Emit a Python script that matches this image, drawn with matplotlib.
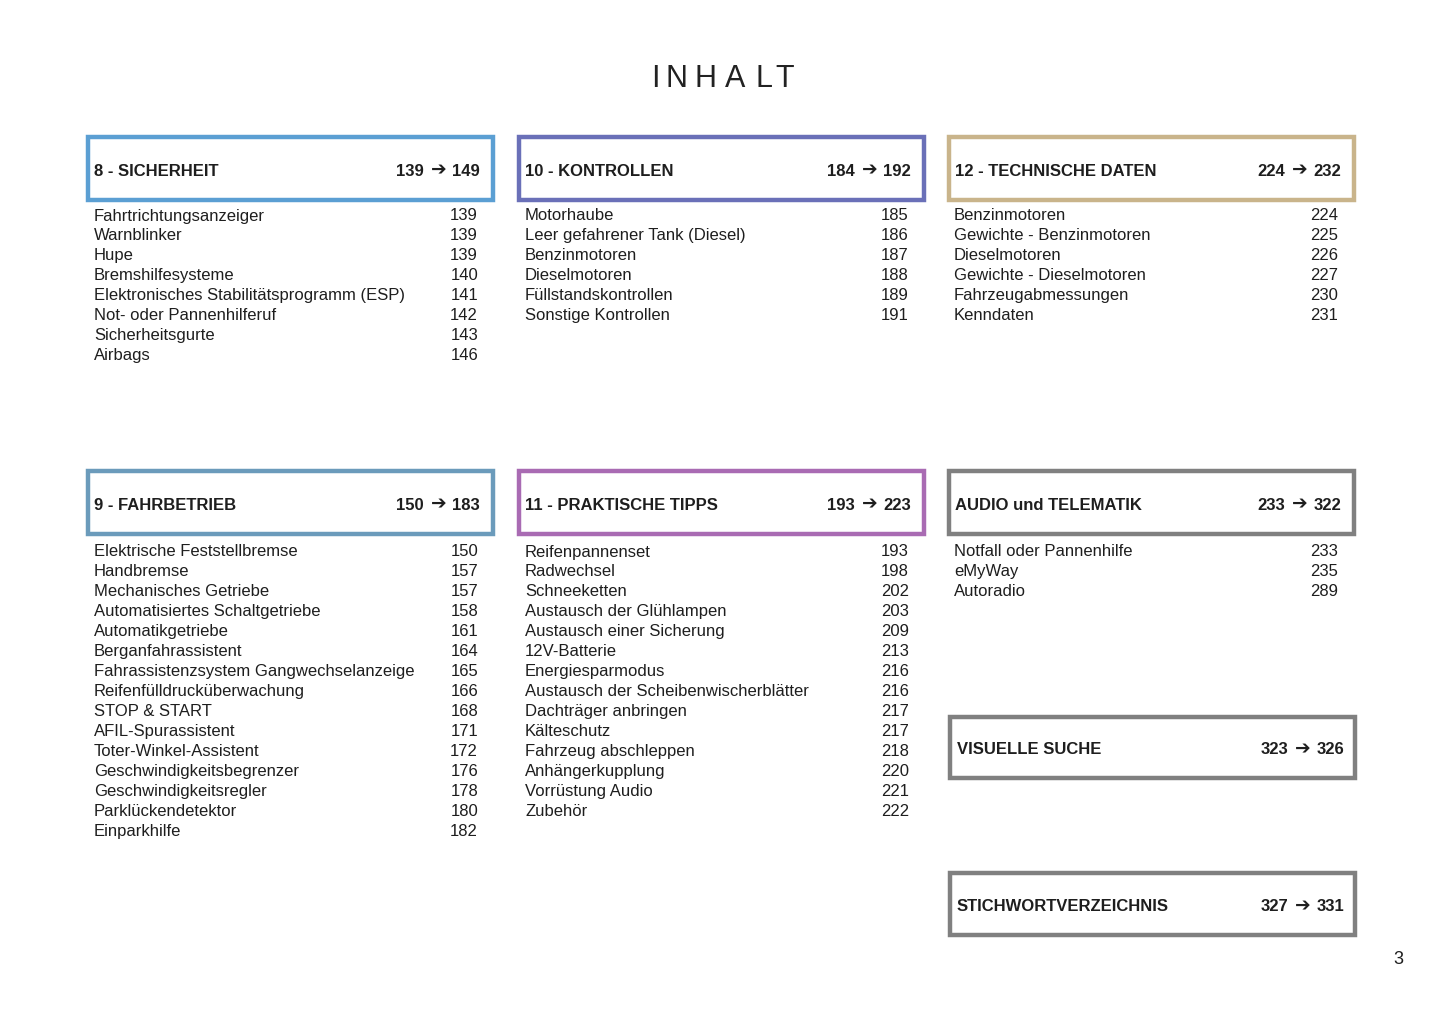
import matplotlib
matplotlib.use("Agg")
import matplotlib.pyplot as plt
from matplotlib.patches import Rectangle

FONT = ["Liberation Sans", "DejaVu Sans"]
INK = "#1e1e1e"

TITLE = "INHALT"
PAGE_NO = "3"

# section headers: (title, first page, last page)
SEC_SICHERHEIT = ("8 - SICHERHEIT", 139, 149)
SEC_KONTROLLEN = ("10 - KONTROLLEN", 184, 192)
SEC_TECHNIK = ("12 - TECHNISCHE DATEN", 224, 232)
SEC_FAHRBETRIEB = ("9 - FAHRBETRIEB", 150, 183)
SEC_TIPPS = ("11 - PRAKTISCHE TIPPS", 193, 223)
SEC_AUDIO = ("AUDIO und TELEMATIK", 233, 322)
SEC_SUCHE = ("VISUELLE SUCHE", 323, 326)
SEC_INDEX = ("STICHWORTVERZEICHNIS", 327, 331)

SICHERHEIT_ITEMS = ["Fahrtrichtungsanzeiger", "Warnblinker", "Hupe", "Bremshilfesysteme",
                    "Elektronisches Stabilitätsprogramm (ESP)", "Not- oder Pannenhilferuf",
                    "Sicherheitsgurte", "Airbags"]
SICHERHEIT_PAGES = [139, 139, 139, 140, 141, 142, 143, 146]

KONTROLLEN_ITEMS = ["Motorhaube", "Leer gefahrener Tank (Diesel)", "Benzinmotoren",
                    "Dieselmotoren", "Füllstandskontrollen", "Sonstige Kontrollen"]
KONTROLLEN_PAGES = [185, 186, 187, 188, 189, 191]

TECHNIK_ITEMS = ["Benzinmotoren", "Gewichte - Benzinmotoren", "Dieselmotoren",
                 "Gewichte - Dieselmotoren", "Fahrzeugabmessungen", "Kenndaten"]
TECHNIK_PAGES = [224, 225, 226, 227, 230, 231]

FAHRBETRIEB_ITEMS = ["Elektrische Feststellbremse", "Handbremse", "Mechanisches Getriebe",
                     "Automatisiertes Schaltgetriebe", "Automatikgetriebe",
                     "Berganfahrassistent", "Fahrassistenzsystem Gangwechselanzeige",
                     "Reifenfülldrucküberwachung", "STOP & START", "AFIL-Spurassistent",
                     "Toter-Winkel-Assistent", "Geschwindigkeitsbegrenzer",
                     "Geschwindigkeitsregler", "Parklückendetektor", "Einparkhilfe"]
FAHRBETRIEB_PAGES = [150, 157, 157, 158, 161, 164, 165, 166, 168, 171, 172, 176, 178, 180, 182]

TIPPS_ITEMS = ["Reifenpannenset", "Radwechsel", "Schneeketten", "Austausch der Glühlampen",
               "Austausch einer Sicherung", "12V-Batterie", "Energiesparmodus",
               "Austausch der Scheibenwischerblätter", "Dachträger anbringen", "Kälteschutz",
               "Fahrzeug abschleppen", "Anhängerkupplung", "Vorrüstung Audio", "Zubehör"]
TIPPS_PAGES = [193, 198, 202, 203, 209, 213, 216, 216, 217, 217, 218, 220, 221, 222]

AUDIO_ITEMS = ["Notfall oder Pannenhilfe", "eMyWay", "Autoradio"]
AUDIO_PAGES = [233, 235, 289]

fig = plt.figure(figsize=(14.45, 10.26), dpi=100)
ax = fig.add_axes([0, 0, 1, 1])
ax.set_xlim(0, 1445)
ax.set_ylim(1026, 0)
ax.axis("off")


def header(sec, x0, y0, color, w=405, h=63, pad=6, rpad=13):
    name, a, b = sec
    ax.add_patch(Rectangle((x0, y0), w, h, fill=False, edgecolor=color, lw=3.2))
    yc = y0 + h / 2 + 2.5
    ax.text(x0 + pad, yc, name, family=FONT, fontsize=12, fontweight="bold",
            color=INK, ha="left", va="center")
    # page range, arrow drawn a bit heavier than the digits
    t = ax.text(x0 + w - rpad, yc, str(b), family=FONT, fontsize=12,
                fontweight="bold", color=INK, ha="right", va="center")
    ax.annotate("\u2794", xy=(0, 0.5), xycoords=t, xytext=(-4, 0),
                textcoords="offset points", family=FONT, fontsize=13.5,
                fontweight="bold", color=INK, ha="right", va="center")
    ax.text(x0 + w - rpad - 56, yc, str(a), family=FONT, fontsize=12,
            fontweight="bold", color=INK, ha="right", va="center")


def listing(items, pages, x_text, x_num, y_first, step=19.95):
    for i, (it, p) in enumerate(zip(items, pages)):
        y = y_first + i * step
        ax.text(x_text, y, it, family=FONT, fontsize=12, color=INK, ha="left", va="center")
        ax.text(x_num, y, str(p), family=FONT, fontsize=12, color=INK, ha="right", va="center")


# title, letter-spaced
for ch, x in zip(TITLE, [655, 676.5, 705.5, 735, 763.5, 785]):
    ax.text(x, 79, ch, family=FONT, fontsize=22, color="#222222", ha="center", va="center")

header(SEC_SICHERHEIT, 88, 137, "#5b9fd3")
header(SEC_KONTROLLEN, 519, 137, "#6a70b8")
header(SEC_TECHNIK, 949, 137, "#c9b48b")
header(SEC_FAHRBETRIEB, 88, 471, "#6b9bbb")
header(SEC_TIPPS, 519, 471, "#a96bb3")
header(SEC_AUDIO, 949, 471, "#808080")
header(SEC_SUCHE, 950, 717, "#808080", h=61, pad=7, rpad=11)
header(SEC_INDEX, 950, 873, "#808080", h=62, pad=7, rpad=11)

listing(SICHERHEIT_ITEMS, SICHERHEIT_PAGES, 94, 478, 216)
listing(KONTROLLEN_ITEMS, KONTROLLEN_PAGES, 525, 909, 216)
listing(TECHNIK_ITEMS, TECHNIK_PAGES, 954, 1338, 216)
listing(FAHRBETRIEB_ITEMS, FAHRBETRIEB_PAGES, 94, 478, 552)
listing(TIPPS_ITEMS, TIPPS_PAGES, 525, 909, 552)
listing(AUDIO_ITEMS, AUDIO_PAGES, 954, 1338, 552)

ax.text(1398, 959, PAGE_NO, family=FONT, fontsize=13, color=INK, ha="center", va="center")

fig.savefig("out.png", dpi=100, facecolor="white")
